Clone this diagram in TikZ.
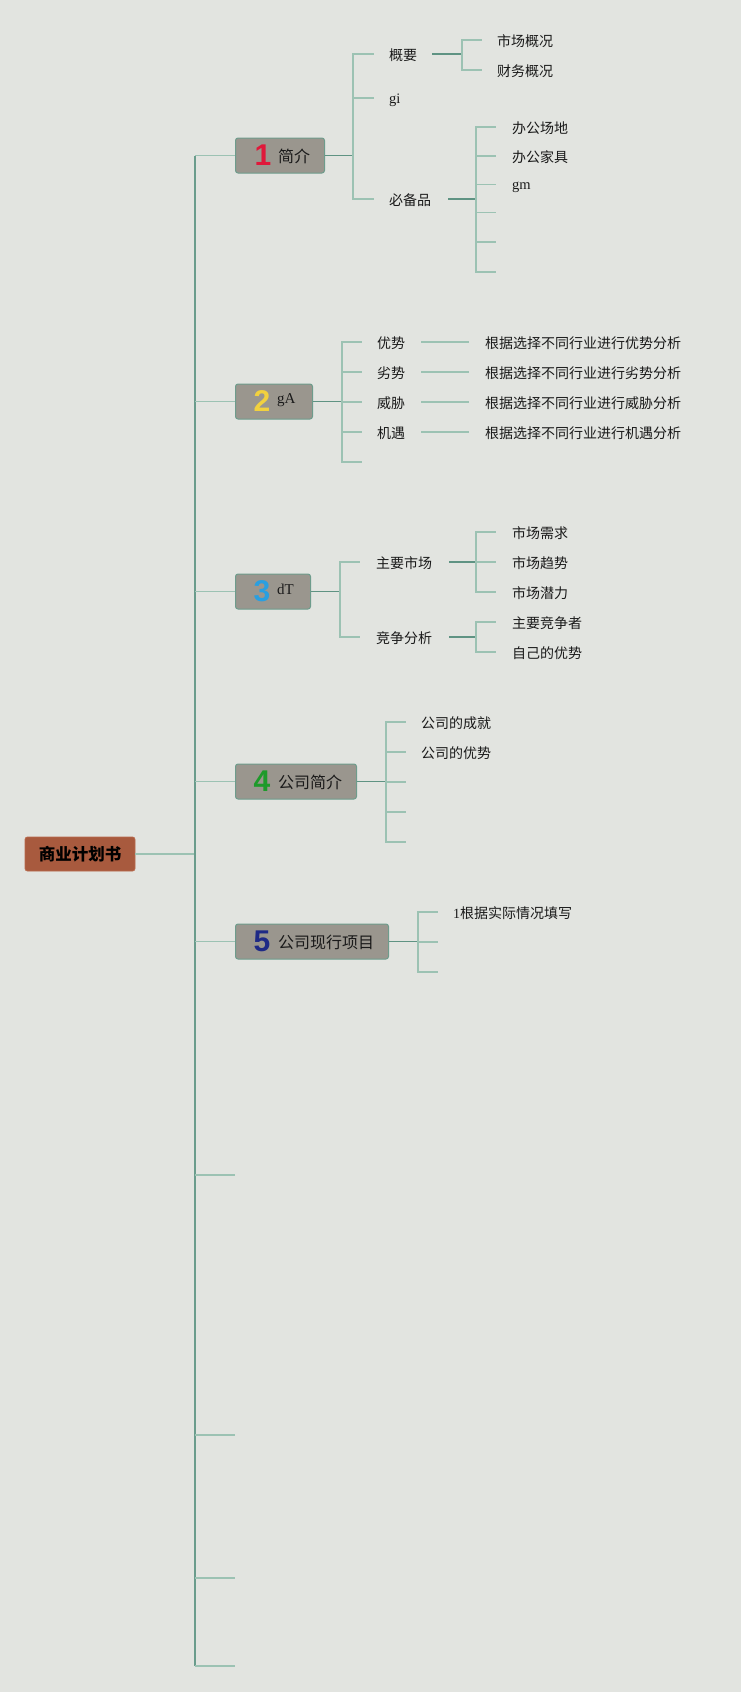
\documentclass[tikz,border=0pt]{standalone}
\usepackage{fontspec}
\setmainfont{Liberation Serif}
\newfontfamily\cjk{Noto Sans CJK SC}
\newfontfamily\numf{Liberation Sans}
\usetikzlibrary{positioning}
\definecolor{bg}{HTML}{E2E4E0}
\definecolor{trunkc}{HTML}{6A9C8C}
\definecolor{feedc}{HTML}{5F9383}
\definecolor{twigc}{HTML}{9CC2B3}
\definecolor{boxfill}{HTML}{9A968E}
\definecolor{boxdraw}{HTML}{6E9C8C}
\definecolor{rootfill}{HTML}{A85A3E}
\definecolor{rootdraw}{HTML}{B86A4E}
\definecolor{nred}{HTML}{E0183A}
\definecolor{nyellow}{HTML}{F2D13E}
\definecolor{nblue}{HTML}{2A9FE0}
\definecolor{ngreen}{HTML}{1E9A2A}
\definecolor{nnavy}{HTML}{1F2A86}
\definecolor{txt}{HTML}{1A1A1A}
\begin{document}
\begin{tikzpicture}[x=1pt,y=-1pt,
  trunk/.style={draw=trunkc,line width=2pt},
  feed/.style={draw=feedc,line width=1.8pt},
  twig/.style={draw=twigc,line width=1.6pt},
  topicbox/.style={draw=boxdraw,line width=1pt,fill=boxfill,rounded corners=2.5pt,
    minimum height=35pt,inner sep=0pt,anchor=west},
  rootbox/.style={draw=rootdraw,line width=0.8pt,fill=rootfill,rounded corners=2.5pt,
    minimum width=110pt,minimum height=34pt,inner sep=0pt,
    font=\cjk\bfseries\fontsize{16.5}{18}\selectfont,text=black},
  numtxt/.style={font=\numf\bfseries\fontsize{30}{30}\selectfont,inner sep=0pt},
  toptxt/.style={font=\cjk\fontsize{16}{18}\selectfont,text=txt,inner sep=0pt,anchor=west},
  toplat/.style={font=\fontsize{15}{18}\selectfont,text=txt,inner sep=0pt,anchor=base west},
  leaf/.style={font=\cjk\fontsize{14}{17}\selectfont,text=txt,inner sep=0pt,anchor=west},
  leafb/.style={font=\cjk\fontsize{14}{17}\selectfont,text=txt,inner sep=0pt,anchor=west},
  leaflat/.style={font=\fontsize{14.5}{17}\selectfont,text=txt,inner sep=0pt,anchor=base west}
]
\useasboundingbox[fill=bg] (0,0) rectangle (741,1692);

% ---------- root ----------
\node[rootbox] (root) at (80,854) {商业计划书};

% ---------- trunk ----------
\coordinate (k1) at (195,155.5);
\coordinate (k2) at (195,401.5);
\coordinate (k3) at (195,591.5);
\coordinate (k4) at (195,781.5);
\coordinate (kr) at (195,854);
\coordinate (k5) at (195,941.5);
\coordinate (k6) at (195,1175);
\coordinate (k7) at (195,1435);
\coordinate (k8) at (195,1578);
\coordinate (k9) at (195,1666);
\draw[twig] (root.east) -- (kr);
\draw[trunk] (k1) -- (k9);

% ---------- topic boxes ----------
\node[topicbox,minimum width=89pt] (t1) at (235,155.5) {};
\node[topicbox,minimum width=77pt] (t2) at (235,401.5) {};
\node[topicbox,minimum width=75pt] (t3) at (235,591.5) {};
\node[topicbox,minimum width=121pt] (t4) at (235,781.5) {};
\node[topicbox,minimum width=153pt] (t5) at (235,941.5) {};

\node[numtxt,text=nred]    (n1) at (263,155) {1};
\node[numtxt,text=nyellow] (n2) at (262,401) {2};
\node[numtxt,text=nblue]   (n3) at (262,591) {3};
\node[numtxt,text=ngreen]  (n4) at (262,781) {4};
\node[numtxt,text=nnavy]   (n5) at (262,941) {5};

\node[toptxt]  (l1) at (278,156.5) {简介};
\node[toplat]  (l2) at (277,403) {gA};
\node[toplat]  (l3) at (277,594) {dT};
\node[toptxt]  (l4) at (278,782.5) {公司简介};
\node[toptxt]  (l5) at (278,942.5) {公司现行项目};

\foreach \i in {1,...,5} {\draw[twig] (k\i) -- (t\i.west);}
\coordinate (e6) at (235,1175);
\coordinate (e7) at (235,1435);
\coordinate (e8) at (235,1578);
\coordinate (e9) at (235,1666);
\foreach \i in {6,...,9} {\draw[twig] (k\i) -- (e\i);}

% ---------- topic 1 ----------
\coordinate (j1) at (353,155.5);
\draw[feed] (t1.east) -- (j1);
\coordinate (b11) at (374,54);
\coordinate (b12) at (374,98);
\coordinate (b13) at (374,199);
\foreach \i in {1,2,3} {\draw[twig] (j1) |- (b1\i);}
\node[leaf,right=15pt of b11,yshift=-1.5pt] (c11) {概要};
\node[leaflat] (c12) at (389,103.5) {gi};
\node[leaf,right=15pt of b13,yshift=-1.5pt] (c13) {必备品};

\coordinate (j11) at (462,54);
\draw[feed] ([xshift=15pt]c11.east |- b11) -- (j11);
\coordinate (b111) at (482,40);
\coordinate (b112) at (482,70);
\foreach \i in {1,2} {\draw[twig] (j11) |- (b11\i);}
\node[leaf,right=15pt of b111,yshift=-1.5pt] (c111) {市场概况};
\node[leaf,right=15pt of b112,yshift=-1.5pt] (c112) {财务概况};

\coordinate (j13) at (476,199);
\draw[feed] ([xshift=17pt]c13.east |- b13) -- (j13);
\coordinate (b131) at (496,127);
\coordinate (b132) at (496,156);
\coordinate (b133) at (496,184.5);
\coordinate (b134) at (496,212.5);
\coordinate (b135) at (496,242);
\coordinate (b136) at (496,272);
\foreach \i in {1,...,6} {\draw[twig] (j13) |- (b13\i);}
\node[leaf,right=16pt of b131,yshift=-1.5pt] (c131) {办公场地};
\node[leaf,right=16pt of b132,yshift=-1.5pt] (c132) {办公家具};
\node[leaflat] (c133) at (512,189) {gm};

% ---------- topic 2 ----------
\coordinate (j2) at (342,401.5);
\draw[feed] (t2.east) -- (j2);
\coordinate (b21) at (362,342);
\coordinate (b22) at (362,372);
\coordinate (b23) at (362,402);
\coordinate (b24) at (362,432);
\coordinate (b25) at (362,462);
\foreach \i in {1,...,5} {\draw[twig] (j2) |- (b2\i);}
\node[leafb,right=15pt of b21,yshift=-1.5pt] (c21) {优势};
\node[leafb,right=15pt of b22,yshift=-1.5pt] (c22) {劣势};
\node[leafb,right=15pt of b23,yshift=-1.5pt] (c23) {威胁};
\node[leafb,right=15pt of b24,yshift=-1.5pt] (c24) {机遇};
\node[leafb] (d21) at (485,343.5) {根据选择不同行业进行优势分析};
\node[leafb] (d22) at (485,373.5) {根据选择不同行业进行劣势分析};
\node[leafb] (d23) at (485,403.5) {根据选择不同行业进行威胁分析};
\node[leafb] (d24) at (485,433.5) {根据选择不同行业进行机遇分析};
\foreach \i in {1,...,4} {\draw[twig] ([xshift=16pt]c2\i.east |- b2\i) -- ([xshift=-16pt]d2\i.west |- b2\i);}

% ---------- topic 3 ----------
\coordinate (j3) at (340,591.5);
\draw[feed] (t3.east) -- (j3);
\coordinate (b31) at (360,562);
\coordinate (b32) at (360,637);
\foreach \i in {1,2} {\draw[twig] (j3) |- (b3\i);}
\node[leaf,right=16pt of b31,yshift=-1.5pt] (c31) {主要市场};
\node[leaf,right=16pt of b32,yshift=-1.5pt] (c32) {竞争分析};

\coordinate (j31) at (476,562);
\draw[feed] ([xshift=17pt]c31.east |- b31) -- (j31);
\coordinate (b311) at (496,532);
\coordinate (b312) at (496,562);
\coordinate (b313) at (496,592);
\foreach \i in {1,2,3} {\draw[twig] (j31) |- (b31\i);}
\node[leaf,right=16pt of b311,yshift=-1.5pt] (c311) {市场需求};
\node[leaf,right=16pt of b312,yshift=-1.5pt] (c312) {市场趋势};
\node[leaf,right=16pt of b313,yshift=-1.5pt] (c313) {市场潜力};

\coordinate (j32) at (476,637);
\draw[feed] ([xshift=17pt]c32.east |- b32) -- (j32);
\coordinate (b321) at (496,622);
\coordinate (b322) at (496,652);
\foreach \i in {1,2} {\draw[twig] (j32) |- (b32\i);}
\node[leaf,right=16pt of b321,yshift=-1.5pt] (c321) {主要竞争者};
\node[leaf,right=16pt of b322,yshift=-1.5pt] (c322) {自己的优势};

% ---------- topic 4 ----------
\coordinate (j4) at (386,781.5);
\draw[feed] (t4.east) -- (j4);
\coordinate (b41) at (406,722);
\coordinate (b42) at (406,752);
\coordinate (b43) at (406,782);
\coordinate (b44) at (406,812);
\coordinate (b45) at (406,842);
\foreach \i in {1,...,5} {\draw[twig] (j4) |- (b4\i);}
\node[leaf,right=15pt of b41,yshift=-1.5pt] (c41) {公司的成就};
\node[leaf,right=15pt of b42,yshift=-1.5pt] (c42) {公司的优势};

% ---------- topic 5 ----------
\coordinate (j5) at (418,941.5);
\draw[feed] (t5.east) -- (j5);
\coordinate (b51) at (438,912);
\coordinate (b52) at (438,942);
\coordinate (b53) at (438,972);
\foreach \i in {1,2,3} {\draw[twig] (j5) |- (b5\i);}
\node[leaf,right=15pt of b51,yshift=-1.5pt] (c51) {{\rmfamily 1}根据实际情况填写};

\end{tikzpicture}
\end{document}
